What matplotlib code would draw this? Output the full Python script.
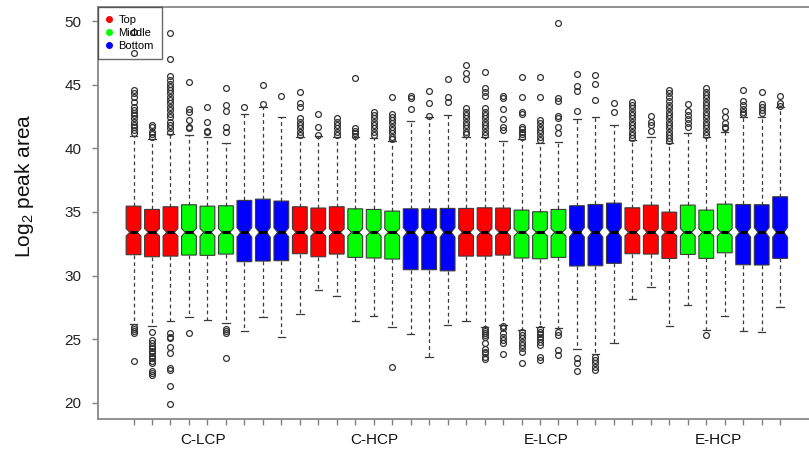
import numpy as np
import matplotlib
matplotlib.use("Agg")
import matplotlib.pyplot as plt
from matplotlib.lines import Line2D

plt.rcParams["font.family"] = ["Liberation Sans", "DejaVu Sans"]
plt.rcParams["mathtext.default"] = "regular"

# 36 boxes: 4 conditions x 3 fractions x 3 replicates
groups = ["C-LCP", "C-HCP", "E-LCP", "E-HCP"]
tiers = ["Top", "Middle", "Bottom"]
tier_colors = ["#ff0000", "#00ff00", "#0000ff"]
n_obs = 420  # proteins per run, used for the notch width

medians = [33.4] * 36

q3 = [35.46, 35.20, 35.41, 35.57, 35.46, 35.49, 35.91, 36.01, 35.86,
      35.41, 35.31, 35.41, 35.25, 35.20, 35.07, 35.25, 35.25, 35.28,
      35.28, 35.33, 35.31, 35.15, 35.02, 35.20, 35.49, 35.59, 35.70,
      35.33, 35.54, 34.99, 35.54, 35.15, 35.62, 35.59, 35.57, 36.20]

q1 = [31.64, 31.48, 31.53, 31.61, 31.59, 31.69, 31.09, 31.14, 31.17,
      31.72, 31.48, 31.69, 31.43, 31.38, 31.30, 30.46, 30.46, 30.37,
      31.53, 31.53, 31.61, 31.38, 31.32, 31.43, 30.75, 30.77, 30.96,
      31.72, 31.69, 31.35, 31.66, 31.35, 31.79, 30.85, 30.83, 31.35]

whisker_lo = [26.19, 26.03, 26.42, 26.76, 26.48, 26.24, 25.64, 26.74, 25.19,
              27.00, 28.86, 28.39, 26.40, 26.82, 25.98, 25.38, 23.62, 26.11,
              26.40, 25.93, 26.15, 25.72, 25.93, 25.85, 24.25, 23.80, 24.72,
              28.13, 29.12, 26.05, 27.65, 25.72, 26.84, 25.64, 25.55, 27.55]

whisker_hi = [40.97, 40.71, 41.12, 41.05, 40.86, 40.44, 42.70, 43.27, 42.49,
              40.86, 40.97, 40.91, 40.91, 40.78, 40.60, 42.17, 42.44, 42.59,
              40.86, 40.86, 40.60, 40.71, 40.39, 40.47, 42.33, 42.44, 41.83,
              40.65, 40.86, 40.39, 41.23, 40.86, 41.30, 42.44, 42.49, 43.22]

outliers_hi = [
    [41.18, 41.44, 41.70, 41.83, 42.09, 42.36, 42.62, 42.75, 43.01, 43.27,
     43.66, 44.01, 44.32, 44.58, 47.49, 49.17],
    [40.91, 41.12, 41.30, 41.65, 41.83],
    [41.30, 41.57, 41.83, 42.09, 42.44, 42.70, 43.01, 43.27, 43.54, 43.80,
     44.06, 44.32, 44.58, 44.80, 45.06, 45.38, 45.69, 47.00, 49.04],
    [41.57, 41.70, 42.22, 42.88, 43.07, 45.24],
    [41.28, 41.38, 42.09, 43.27],
    [41.30, 41.70, 42.93, 43.40, 44.72],
    [43.27],
    [43.48, 45.00],
    [44.11],
    [41.05, 41.30, 41.57, 41.83, 42.09, 42.36, 43.27, 43.54, 44.45],
    [41.05, 41.65, 42.67],
    [41.05, 41.30, 41.57, 41.83, 42.09, 42.36],
    [40.97, 41.18, 41.38, 41.57, 45.51],
    [41.05, 41.30, 41.57, 41.83, 42.09, 42.36, 42.62, 42.88],
    [40.71, 40.91, 41.18, 41.44, 41.70, 41.96, 42.22, 42.49, 42.70, 44.01],
    [43.07, 43.93, 44.11],
    [42.54, 43.54, 44.50],
    [43.66, 44.06, 45.42],
    [41.12, 41.30, 41.57, 41.83, 42.09, 42.36, 42.62, 42.88, 43.14, 45.42,
     45.90, 46.55],
    [41.05, 41.30, 41.57, 41.83, 42.09, 42.36, 42.62, 42.88, 43.14, 44.11,
     44.45, 44.72, 46.00],
    [41.44, 41.65, 42.31, 43.07, 43.93, 44.11],
    [40.91, 41.12, 41.30, 41.49, 41.70, 42.70, 42.88, 44.06, 45.64],
    [40.65, 40.91, 41.18, 41.44, 41.70, 41.96, 42.22, 44.01, 45.64],
    [41.18, 41.65, 42.36, 42.54, 43.74, 43.93, 49.87],
    [42.96, 44.53, 44.90, 45.82],
    [43.80, 45.06, 45.74],
    [42.88, 43.54],
    [40.78, 41.05, 41.30, 41.57, 41.83, 42.09, 42.36, 42.62, 42.88, 43.14,
     43.40, 43.66],
    [41.38, 41.83, 42.09, 42.54],
    [40.60, 40.78, 41.05, 41.30, 41.57, 41.83, 42.09, 42.36, 42.62, 42.88,
     43.14, 43.40, 43.74, 44.01, 44.32, 44.58],
    [41.65, 41.96, 42.31, 42.62, 42.96, 43.46],
    [41.05, 41.30, 41.57, 41.83, 42.09, 42.36, 42.62, 42.88, 43.14, 43.40,
     43.66, 43.93, 44.19, 44.45, 44.72],
    [41.57, 41.70, 42.03, 42.44, 42.93],
    [42.70, 42.88, 43.07, 43.40, 43.74, 44.58],
    [42.75, 43.01, 43.27, 43.48, 44.42],
    [43.33, 43.58, 44.16],
]

outliers_lo = [
    [23.30, 25.50, 25.64, 25.79, 25.97],
    [22.18, 22.31, 22.49, 23.10, 23.30, 23.49, 23.67, 23.88, 24.09, 24.28,
     24.46, 24.72, 24.93, 25.58],
    [19.87, 21.31, 22.57, 22.75, 23.88, 24.40, 25.06, 25.19, 25.46],
    [25.46], [], [23.49, 25.50, 25.64, 25.77], [], [], [],
    [], [], [], [], [], [22.83], [], [], [],
    [], [23.41, 23.62, 23.88, 24.01, 24.20, 24.67, 25.14, 25.32, 25.50, 25.64, 25.77],
    [23.80, 24.67, 24.93, 25.19, 25.46, 25.85, 26.03],
    [23.10, 24.01, 24.28, 24.54, 24.80, 25.06, 25.32, 25.58],
    [23.36, 23.62, 24.54, 24.80, 24.98, 25.19, 25.40, 25.58, 25.77],
    [23.75, 24.14, 25.32, 25.58],
    [22.52, 23.14, 23.49],
    [22.57, 22.83, 23.10, 23.36, 23.62],
    [],
    [], [], [], [], [25.35], [], [], [], [],
]

# x positions of the condition labels, in box units
group_label_x = [4.75, 14.05, 23.35, 32.65]

W, H = 809, 458
fig = plt.figure(figsize=(W / 100, H / 100), dpi=100)
fig.patch.set_facecolor("white")
ax = fig.add_axes([97.7 / W, 39 / H, (816 - 97.7) / W, 412 / H])

stats = []
for i in range(36):
    iqr = q3[i] - q1[i]
    half = 1.58 * iqr / np.sqrt(n_obs)
    stats.append(dict(
        med=medians[i], q1=q1[i], q3=q3[i],
        whislo=whisker_lo[i], whishi=whisker_hi[i],
        cilo=medians[i] - half, cihi=medians[i] + half,
        fliers=np.array(outliers_lo[i] + outliers_hi[i]),
    ))

positions = np.arange(1, 37)
bp = ax.bxp(stats, positions=positions, widths=0.8, shownotches=True,
            patch_artist=True,
            boxprops=dict(edgecolor="#3a3a3a", linewidth=0.8),
            medianprops=dict(color="black", linewidth=2.2, solid_capstyle="butt"),
            whiskerprops=dict(color="#3a3a3a", linewidth=0.9, linestyle=(0, (3, 2.5))),
            capprops=dict(color="#3a3a3a", linewidth=0.9),
            flierprops=dict(marker="o", markerfacecolor="none",
                            markeredgecolor="#333333", markersize=4.2,
                            markeredgewidth=0.9, linestyle="none"))
for i, box in enumerate(bp["boxes"]):
    box.set_facecolor(tier_colors[(i // 3) % 3])

ax.set_xlim(-0.94, 37.94)
ax.set_ylim(18.72, 51.12)

ax.set_yticks(np.arange(20, 51, 5))
ax.set_xticks(positions)
ax.set_xticklabels([])
ax.tick_params(axis="both", direction="out", length=4.3, width=1.0,
               color="#808080", labelsize=11, labelcolor="#222222")
ax.tick_params(axis="y", pad=7.5)
for s in ax.spines.values():
    s.set_color("#888888")
    s.set_linewidth(1.3)

for x, lab in zip(group_label_x, groups):
    ax.text(x, -0.051, lab, transform=ax.get_xaxis_transform(),
            ha="center", va="center", fontsize=11, color="#111111")

fig.text(25 / W, 1 - 186 / H, r"Log$_2$ peak area", rotation=90,
         ha="center", va="center", fontsize=15, color="#111111")

handles = [Line2D([], [], marker="o", linestyle="none", color=c,
                  markersize=4) for c in tier_colors]
leg = ax.legend(handles, tiers, loc="upper left", bbox_to_anchor=(0, 1),
                borderaxespad=0, fontsize=8, frameon=True, fancybox=False,
                handlelength=0.6, handletextpad=0.5, borderpad=0.75,
                labelspacing=0.25)
leg.get_frame().set_facecolor("none")
leg.get_frame().set_edgecolor("#444444")
leg.get_frame().set_linewidth(1.0)

fig.savefig("out.png", dpi=100, facecolor="white")
